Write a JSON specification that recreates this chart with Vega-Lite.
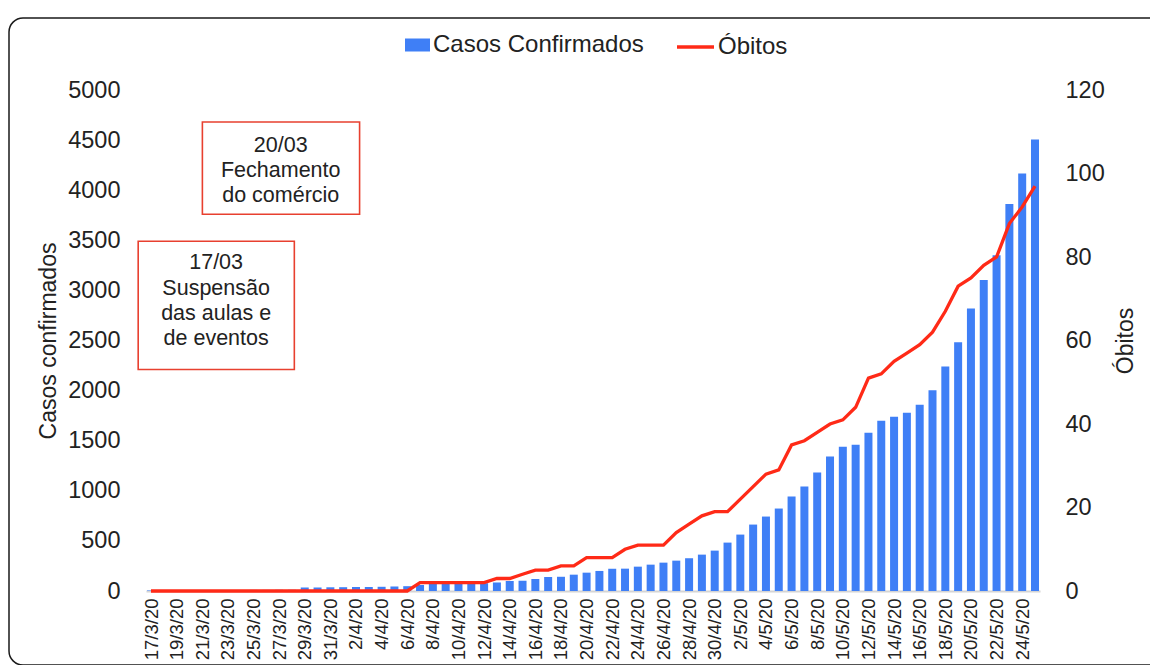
{
  "$schema": "https://vega.github.io/schema/vega-lite/v6.json",
  "width": 1165,
  "height": 647,
  "autosize": {"type": "none"},
  "padding": {"left": 9, "top": 18, "right": -24, "bottom": 0},
  "background": "white",
  "config": {
    "view": {"stroke": "#1a1a1a", "strokeWidth": 1.5, "cornerRadius": 14},
    "font": "Liberation Sans",
    "axis": {"labelOverlap": false}
  },
  "datasets": {
    "covid": [
      {"date": "2020-03-17", "casos": 5, "obitos": 0},
      {"date": "2020-03-18", "casos": 5, "obitos": 0},
      {"date": "2020-03-19", "casos": 6, "obitos": 0},
      {"date": "2020-03-20", "casos": 7, "obitos": 0},
      {"date": "2020-03-21", "casos": 8, "obitos": 0},
      {"date": "2020-03-22", "casos": 9, "obitos": 0},
      {"date": "2020-03-23", "casos": 10, "obitos": 0},
      {"date": "2020-03-24", "casos": 10, "obitos": 0},
      {"date": "2020-03-25", "casos": 11, "obitos": 0},
      {"date": "2020-03-26", "casos": 11, "obitos": 0},
      {"date": "2020-03-27", "casos": 12, "obitos": 0},
      {"date": "2020-03-28", "casos": 12, "obitos": 0},
      {"date": "2020-03-29", "casos": 35, "obitos": 0},
      {"date": "2020-03-30", "casos": 35, "obitos": 0},
      {"date": "2020-03-31", "casos": 37, "obitos": 0},
      {"date": "2020-04-01", "casos": 38, "obitos": 0},
      {"date": "2020-04-02", "casos": 40, "obitos": 0},
      {"date": "2020-04-03", "casos": 40, "obitos": 0},
      {"date": "2020-04-04", "casos": 42, "obitos": 0},
      {"date": "2020-04-05", "casos": 45, "obitos": 0},
      {"date": "2020-04-06", "casos": 48, "obitos": 0},
      {"date": "2020-04-07", "casos": 60, "obitos": 2},
      {"date": "2020-04-08", "casos": 70, "obitos": 2},
      {"date": "2020-04-09", "casos": 72, "obitos": 2},
      {"date": "2020-04-10", "casos": 73, "obitos": 2},
      {"date": "2020-04-11", "casos": 75, "obitos": 2},
      {"date": "2020-04-12", "casos": 78, "obitos": 2},
      {"date": "2020-04-13", "casos": 85, "obitos": 3},
      {"date": "2020-04-14", "casos": 100, "obitos": 3},
      {"date": "2020-04-15", "casos": 102, "obitos": 4},
      {"date": "2020-04-16", "casos": 120, "obitos": 5},
      {"date": "2020-04-17", "casos": 140, "obitos": 5},
      {"date": "2020-04-18", "casos": 142, "obitos": 6},
      {"date": "2020-04-19", "casos": 163, "obitos": 6},
      {"date": "2020-04-20", "casos": 183, "obitos": 8},
      {"date": "2020-04-21", "casos": 200, "obitos": 8},
      {"date": "2020-04-22", "casos": 222, "obitos": 8},
      {"date": "2020-04-23", "casos": 223, "obitos": 10},
      {"date": "2020-04-24", "casos": 243, "obitos": 11},
      {"date": "2020-04-25", "casos": 263, "obitos": 11},
      {"date": "2020-04-26", "casos": 283, "obitos": 11},
      {"date": "2020-04-27", "casos": 303, "obitos": 14},
      {"date": "2020-04-28", "casos": 327, "obitos": 16},
      {"date": "2020-04-29", "casos": 363, "obitos": 18},
      {"date": "2020-04-30", "casos": 403, "obitos": 19},
      {"date": "2020-05-01", "casos": 483, "obitos": 19},
      {"date": "2020-05-02", "casos": 563, "obitos": 22},
      {"date": "2020-05-03", "casos": 663, "obitos": 25},
      {"date": "2020-05-04", "casos": 743, "obitos": 28},
      {"date": "2020-05-05", "casos": 823, "obitos": 29},
      {"date": "2020-05-06", "casos": 943, "obitos": 35},
      {"date": "2020-05-07", "casos": 1042, "obitos": 36},
      {"date": "2020-05-08", "casos": 1182, "obitos": 38},
      {"date": "2020-05-09", "casos": 1343, "obitos": 40},
      {"date": "2020-05-10", "casos": 1440, "obitos": 41},
      {"date": "2020-05-11", "casos": 1460, "obitos": 44},
      {"date": "2020-05-12", "casos": 1580, "obitos": 51},
      {"date": "2020-05-13", "casos": 1700, "obitos": 52},
      {"date": "2020-05-14", "casos": 1740, "obitos": 55},
      {"date": "2020-05-15", "casos": 1780, "obitos": 57},
      {"date": "2020-05-16", "casos": 1860, "obitos": 59},
      {"date": "2020-05-17", "casos": 2003, "obitos": 62},
      {"date": "2020-05-18", "casos": 2240, "obitos": 67},
      {"date": "2020-05-19", "casos": 2482, "obitos": 73},
      {"date": "2020-05-20", "casos": 2820, "obitos": 75},
      {"date": "2020-05-21", "casos": 3103, "obitos": 78},
      {"date": "2020-05-22", "casos": 3350, "obitos": 80},
      {"date": "2020-05-23", "casos": 3863, "obitos": 88},
      {"date": "2020-05-24", "casos": 4167, "obitos": 92},
      {"date": "2020-05-25", "casos": 4507, "obitos": 97}
    ],
    "notes": [
      {"label": "17/03\nSuspensão\ndas aulas e\nde eventos", "x0": "2020-03-16T00:00:00Z", "x1": "2020-03-28T04:30:00Z", "xc": "2020-03-22T02:00:00Z", "y0": 3490, "y1": 2210, "yc": 3270},
      {"label": "20/03\nFechamento\ndo comércio", "x0": "2020-03-21T00:15:00Z", "x1": "2020-04-02T06:45:00Z", "xc": "2020-03-27T03:00:00Z", "y0": 4680, "y1": 3760, "yc": 4445}
    ]
  },
  "layer": [
    {
      "layer": [
        {
          "data": {"name": "notes"},
          "mark": {"type": "rect", "fillOpacity": 0, "stroke": "#E8402F", "strokeWidth": 1.6},
          "encoding": {
            "x": {"field": "x0", "type": "temporal",
                  "scale": {"type": "utc", "domain": [{"year": 2020, "month": 3, "date": 17, "utc": true}, {"year": 2020, "month": 5, "date": 25, "utc": true}], "range": [137, 1031]}},
            "x2": {"field": "x1"},
            "y": {"field": "y0", "type": "quantitative",
                  "scale": {"domain": [0, 5000], "range": [573, 72], "nice": false, "zero": true}},
            "y2": {"field": "y1"}
          }
        },
        {
          "data": {"name": "notes"},
          "mark": {"type": "text", "lineBreak": "\n", "fontSize": 21.5, "lineHeight": 25.3, "align": "center", "baseline": "middle", "color": "#222"},
          "encoding": {
            "x": {"field": "xc", "type": "temporal",
                  "scale": {"type": "utc", "domain": [{"year": 2020, "month": 3, "date": 17, "utc": true}, {"year": 2020, "month": 5, "date": 25, "utc": true}], "range": [137, 1031]}},
            "y": {"field": "yc", "type": "quantitative",
                  "scale": {"domain": [0, 5000], "range": [573, 72], "nice": false, "zero": true}},
            "text": {"field": "label"}
          }
        },
        {
          "data": {"name": "covid"},
          "mark": {"type": "bar", "size": 8},
          "encoding": {
            "x": {"field": "date", "type": "temporal",
                  "scale": {"type": "utc", "domain": [{"year": 2020, "month": 3, "date": 17, "utc": true}, {"year": 2020, "month": 5, "date": 25, "utc": true}], "range": [137, 1031]}},
            "y": {"field": "casos", "type": "quantitative",
                  "scale": {"domain": [0, 5000], "range": [573, 72], "nice": false, "zero": true},
                  "axis": {
                    "orient": "left", "offset": -119, "grid": false, "domain": false, "ticks": false, "tickSize": 0,
                    "values": [0, 500, 1000, 1500, 2000, 2500, 3000, 3500, 4000, 4500, 5000],
                    "tickCount": 20,
                    "format": "d",
                    "labelFontSize": 23.5, "labelColor": "#222", "labelPadding": 8,
                    "title": "Casos confirmados", "titleFontSize": 23, "titleFontWeight": "normal", "titleColor": "#222", "titlePadding": 7
                  }},
            "fill": {"datum": "Casos Confirmados", "type": "nominal",
                     "scale": {"range": ["#3F7FF6"]},
                     "legend": {"orient": "none", "legendX": 396, "legendY": 14.5, "title": null, "padding": 0,
                                "symbolType": "M-1,-0.52H1V0.52H-1Z", "symbolSize": 625, "symbolStrokeWidth": 0,
                                "labelFontSize": 24, "labelColor": "#222", "labelOffset": 3, "labelLimit": 400}}
          }
        }
      ]
    },
    {
      "data": {"name": "covid"},
      "mark": {"type": "line", "strokeWidth": 3.3, "interpolate": "linear"},
      "encoding": {
        "x": {"field": "date", "type": "temporal",
              "scale": {"type": "utc", "domain": [{"year": 2020, "month": 3, "date": 17, "utc": true}, {"year": 2020, "month": 5, "date": 25, "utc": true}], "range": [137, 1031]},
              "axis": {
                "orient": "bottom", "offset": -74, "title": null, "grid": false,
                "tickCount": 80,
                "values": [
                  {"year": 2020, "month": 3, "date": 17, "utc": true},
                  {"year": 2020, "month": 3, "date": 19, "utc": true},
                  {"year": 2020, "month": 3, "date": 21, "utc": true},
                  {"year": 2020, "month": 3, "date": 23, "utc": true},
                  {"year": 2020, "month": 3, "date": 25, "utc": true},
                  {"year": 2020, "month": 3, "date": 27, "utc": true},
                  {"year": 2020, "month": 3, "date": 29, "utc": true},
                  {"year": 2020, "month": 3, "date": 31, "utc": true},
                  {"year": 2020, "month": 4, "date": 2, "utc": true},
                  {"year": 2020, "month": 4, "date": 4, "utc": true},
                  {"year": 2020, "month": 4, "date": 6, "utc": true},
                  {"year": 2020, "month": 4, "date": 8, "utc": true},
                  {"year": 2020, "month": 4, "date": 10, "utc": true},
                  {"year": 2020, "month": 4, "date": 12, "utc": true},
                  {"year": 2020, "month": 4, "date": 14, "utc": true},
                  {"year": 2020, "month": 4, "date": 16, "utc": true},
                  {"year": 2020, "month": 4, "date": 18, "utc": true},
                  {"year": 2020, "month": 4, "date": 20, "utc": true},
                  {"year": 2020, "month": 4, "date": 22, "utc": true},
                  {"year": 2020, "month": 4, "date": 24, "utc": true},
                  {"year": 2020, "month": 4, "date": 26, "utc": true},
                  {"year": 2020, "month": 4, "date": 28, "utc": true},
                  {"year": 2020, "month": 4, "date": 30, "utc": true},
                  {"year": 2020, "month": 5, "date": 2, "utc": true},
                  {"year": 2020, "month": 5, "date": 4, "utc": true},
                  {"year": 2020, "month": 5, "date": 6, "utc": true},
                  {"year": 2020, "month": 5, "date": 8, "utc": true},
                  {"year": 2020, "month": 5, "date": 10, "utc": true},
                  {"year": 2020, "month": 5, "date": 12, "utc": true},
                  {"year": 2020, "month": 5, "date": 14, "utc": true},
                  {"year": 2020, "month": 5, "date": 16, "utc": true},
                  {"year": 2020, "month": 5, "date": 18, "utc": true},
                  {"year": 2020, "month": 5, "date": 20, "utc": true},
                  {"year": 2020, "month": 5, "date": 22, "utc": true},
                  {"year": 2020, "month": 5, "date": 24, "utc": true}
                ],
                "format": "%-d/%-m/%y",
                "labelAngle": 270, "labelFontSize": 18.5, "labelColor": "#222", "labelPadding": 7,
                "labelOverlap": false, "labelFlush": false, "labelBound": false,
                "ticks": false, "tickSize": 0,
                "domain": true, "domainColor": "#d4d4d4", "domainWidth": 2
              }},
        "y": {"field": "obitos", "type": "quantitative",
              "scale": {"domain": [0, 120], "range": [573, 72], "nice": false, "zero": true},
              "axis": {
                "orient": "right", "offset": -116, "grid": false, "domain": false, "ticks": false, "tickSize": 0,
                "values": [0, 20, 40, 60, 80, 100, 120],
                "tickCount": 20,
                "labelFontSize": 23.5, "labelColor": "#222", "labelPadding": 7,
                "title": "Óbitos", "titleFontSize": 23, "titleFontWeight": "normal", "titleColor": "#222", "titlePadding": 33, "titleAngle": 270
              }},
        "stroke": {"datum": "Óbitos", "type": "nominal",
                   "scale": {"range": ["#FF2A17"]},
                   "legend": {"orient": "none", "legendX": 666, "legendY": 8.5, "title": null, "padding": 0,
                              "symbolType": "stroke", "symbolSize": 1369, "symbolStrokeWidth": 3.5,
                              "labelFontSize": 24, "labelColor": "#222", "labelOffset": 2, "labelLimit": 400}}
      }
    }
  ],
  "resolve": {"scale": {"y": "independent"}}
}
